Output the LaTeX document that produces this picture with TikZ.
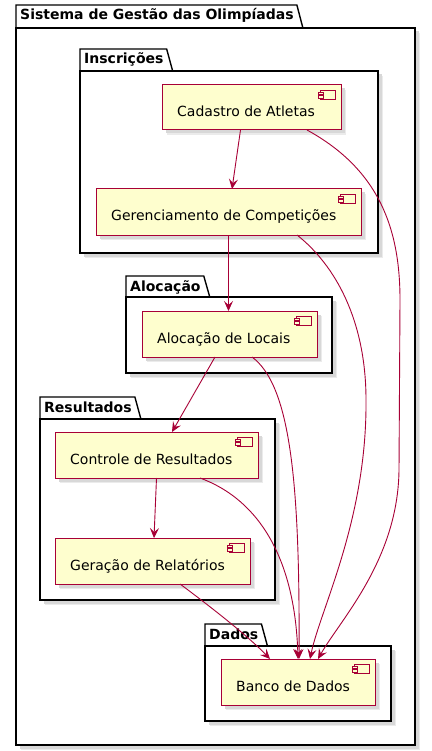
\documentclass[tikz,border=0pt]{standalone}
\usepackage{fontspec}
\setmainfont{DejaVu Sans}
\usetikzlibrary{arrows.meta,calc}
\definecolor{pred}{HTML}{A80036}
\definecolor{pfill}{HTML}{FEFECE}
\definecolor{shd}{HTML}{D8D8D8}
\definecolor{shdl}{HTML}{EBEBEB}
\newcommand\pkgbox[7]{%
  \node[pkgbody, anchor=north west, minimum width={#5-#2}, minimum height={#6-#4}] (#1) at (#2,#4) {};
  \node[plbl, anchor=base west] (#1L) at (#2+4,#3+15) {#7};
  \draw[pkgline] (#2,#4) -- (#2,#3) -- ($(#1L.east |- 0,#3)+(3,0)$) -- ($(#1L.east |- 0,#4)+(9,0)$);
}
\newcommand\compbox[7]{%
  \node[comp, anchor=north west, minimum width={#4-#2}, minimum height={#5-#3}] (#1) at (#2,#3) {};
  \node[clbl, anchor=base west] (#1T) at (#2+15,#3+32) {#6};
  \draw[pred, fill=pfill, line width=0.8pt] ($(#1.north east)+(-21,5)$) rectangle ($(#1.north east)+(-6,14)$);
  \draw[pred, fill=pfill, line width=0.8pt] ($(#1.north east)+(-23,7)$) rectangle ($(#1.north east)+(-18,9.5)$);
  \draw[pred, fill=pfill, line width=0.8pt] ($(#1.north east)+(-23,10.5)$) rectangle ($(#1.north east)+(-18,13)$);
}
\begin{document}
\begin{tikzpicture}[x=1pt,y=-1pt,
  pkgline/.style={black, line width=1.4pt},
  shadowed/.style={preaction={draw=none, fill=shdl, transform canvas={xshift=5pt,yshift=-5pt}},
    preaction={draw=none, fill=shd, transform canvas={xshift=3.5pt,yshift=-3.5pt}}},
  pkgbody/.style={draw=black, line width=1.4pt, fill=white, inner sep=0pt, outer sep=0pt, shadowed},
  plbl/.style={font=\bfseries\fontsize{14}{16}\selectfont, inner sep=0pt},
  comp/.style={draw=pred, line width=1pt, fill=pfill, inner sep=0pt, outer sep=0pt, shadowed},
  clbl/.style={font=\fontsize{14}{16}\selectfont, inner sep=0pt},
  arr/.style={pred, line width=0.9pt, -{Stealth[length=10pt,width=9pt,inset=4pt]}}]
\useasboundingbox (0,0) rectangle (431,751);

\pkgbox{sys}{16}{5}{28}{415}{745}{Sistema de Gestão das Olimpíadas}
\pkgbox{insc}{80}{49}{71}{378}{253}{Inscrições}
\pkgbox{alocp}{126}{276}{297}{332}{373}{Alocação}
\pkgbox{resp}{40}{397}{419}{275}{600}{Resultados}
\pkgbox{dadp}{205}{624}{646}{391}{721}{Dados}

\compbox{cad}{162}{85}{341}{130}{Cadastro de Atletas}{}
\compbox{ger}{96}{189}{361}{235}{Gerenciamento de Competições}{}
\compbox{aloc}{142}{311}{317}{357}{Alocação de Locais}{}
\compbox{ctrl}{55}{432}{258}{478}{Controle de Resultados}{}
\compbox{gera}{55}{538}{250}{584}{Geração de Relatórios}{}
\compbox{banco}{221}{659}{375}{705}{Banco de Dados}{}

\draw[arr] ($(cad.south)+(-11,0)$) -- ($(ger.north)+(3.5,0)$);
\draw[arr] (ger.south) -- ($(aloc.north)+(-1,0)$);
\draw[arr] ($(aloc.south)+(-14.5,0)$) -- ($(ctrl.north)+(15.5,0)$);
\draw[arr] (ctrl.south) -- ($(gera.north)+(1.5,0)$);
\draw[arr] ($(gera.south)+(27.5,0)$) .. controls (215,610) and (250,638) .. ($(banco.north)+(-28,0)$);
\draw[arr] ($(ctrl.south)+(43.5,0)$) .. controls (260,500) and (295,560) .. ($(banco.north)+(0,0)$);
\draw[arr] ($(aloc.south)+(22.5,0)$) .. controls (290,385) and (300,480) .. ($(banco.north)+(1,0)$);
\draw[arr] ($(ger.south)+(68.5,0)$) .. controls (335,265) and (366,320) .. (366,400)
   .. controls (367,520) and (320,610) .. ($(banco.north)+(12,0)$);
\draw[arr] ($(cad.south)+(55.5,0)$) .. controls (380,170) and (400,230) .. (400,300)
   -- (399,470) .. controls (398,560) and (340,620) .. ($(banco.north)+(20,0)$);
\end{tikzpicture}
\end{document}
